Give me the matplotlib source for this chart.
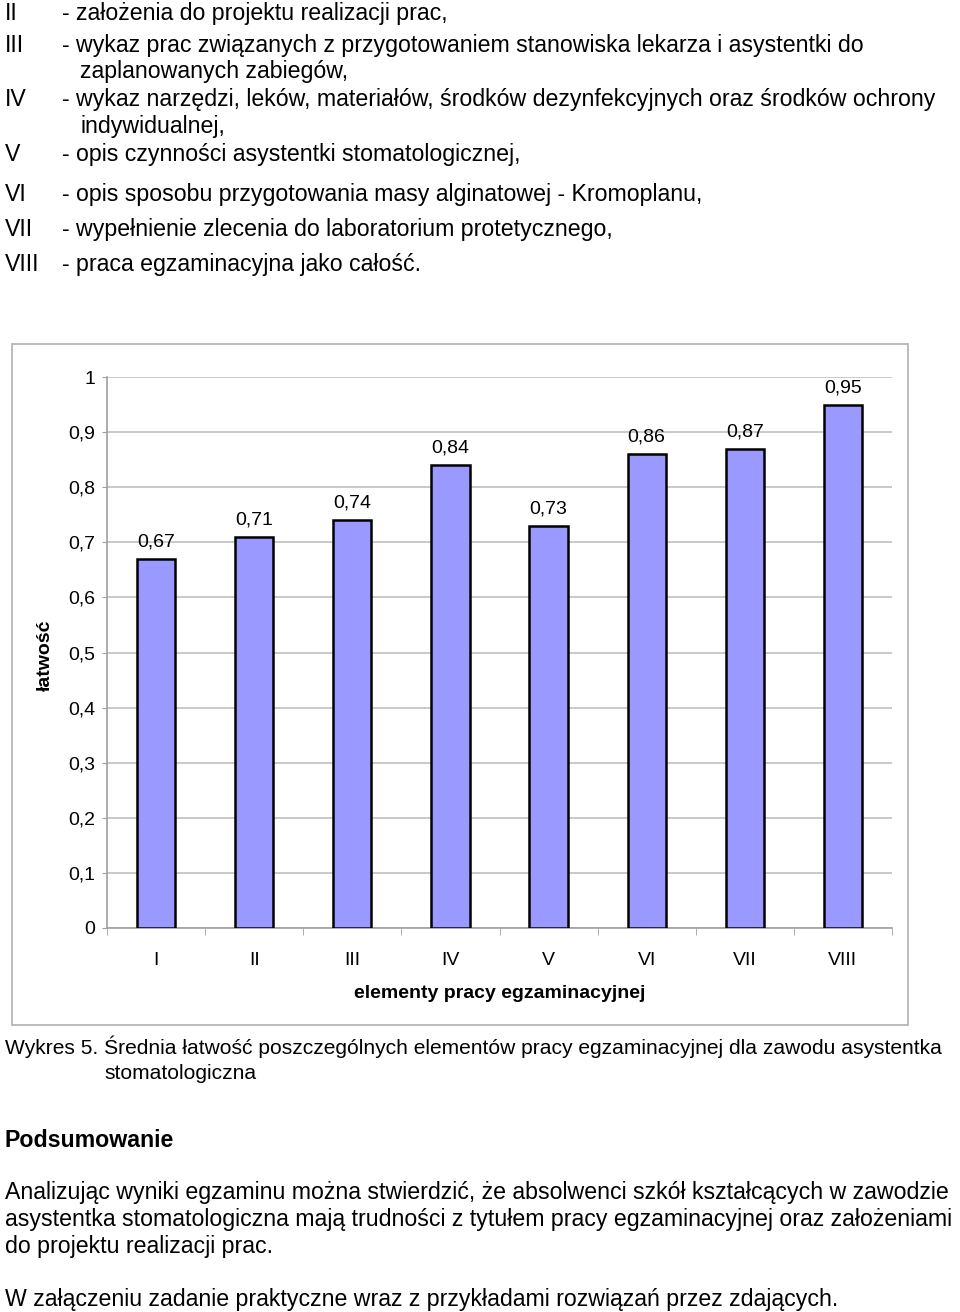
import matplotlib.pyplot as plt
from matplotlib.patches import Rectangle

plt.rcParams['font.family'] = ['Liberation Sans', 'DejaVu Sans']

# chart data
elements = ['I', 'II', 'III', 'IV', 'V', 'VI', 'VII', 'VIII']
ease = [0.67, 0.71, 0.74, 0.84, 0.73, 0.86, 0.87, 0.95]
y_ticks = [0, 0.1, 0.2, 0.3, 0.4, 0.5, 0.6, 0.7, 0.8, 0.9, 1]

# page text
list_numerals = ['II', 'III', '', 'IV', '', 'V', 'VI', 'VII', 'VIII']
list_items = [
    '- założenia do projektu realizacji prac,',
    '- wykaz prac związanych z przygotowaniem stanowiska lekarza i asystentki do',
    'zaplanowanych zabiegów,',
    '- wykaz narzędzi, leków, materiałów, środków dezynfekcyjnych oraz środków ochrony',
    'indywidualnej,',
    '- opis czynności asystentki stomatologicznej,',
    '- opis sposobu przygotowania masy alginatowej - Kromoplanu,',
    '- wypełnienie zlecenia do laboratorium protetycznego,',
    '- praca egzaminacyjna jako całość.',
]
list_rows = [12, 44, 70, 98, 125, 153, 193, 228, 263]

caption = ['Wykres 5. Średnia łatwość poszczególnych elementów pracy egzaminacyjnej dla zawodu asystentka',
           'stomatologiczna']
summary = ['Analizując wyniki egzaminu można stwierdzić, że absolwenci szkół kształcących w zawodzie',
           'asystentka stomatologiczna mają trudności z tytułem pracy egzaminacyjnej oraz założeniami',
           'do projektu realizacji prac.']
closing = 'W załączeniu zadanie praktyczne wraz z przykładami rozwiązań przez zdających.'

W, H = 960, 1312
fig = plt.figure(figsize=(W / 100, H / 100), dpi=100)


def fx(px):
    return px / W


def fy(py):
    return 1 - py / H


FS = 16.7
CS = 14  # chart text size


def line(xp, row, s, size=FS, **kw):
    # row is the middle of the capital letters; text sits on its baseline
    fig.text(fx(xp), fy(row + size * 0.48), s, fontsize=size, va='baseline', **kw)


for num, item, row in zip(list_numerals, list_items, list_rows):
    if num:
        line(5, row, num)
        line(62, row, item)
    else:
        line(80, row, item)

# chart frame
fig.patches.append(Rectangle((fx(12), fy(1025)), fx(908 - 12), (1025 - 344) / H,
                             transform=fig.transFigure, fill=False,
                             edgecolor='#b0b0b0', linewidth=1.2))

ax = fig.add_axes([fx(107), fy(928), fx(892 - 107), (928 - 377) / H])
x = range(len(elements))
ax.bar(x, ease, width=0.39, color='#9999ff', edgecolor='black', linewidth=1.8, zorder=3)
for xi, v in zip(x, ease):
    ax.annotate(f'{v:.2f}'.replace('.', ','), (xi, v), xytext=(0, 6), textcoords='offset points',
                ha='center', va='bottom', fontsize=CS)

ax.set_xlim(-0.5, len(elements) - 0.5)
ax.set_ylim(0, 1)
ax.set_yticks(y_ticks)
ax.set_yticklabels([f'{t:g}'.replace('.', ',') for t in y_ticks])
ax.yaxis.grid(True, color='#c0c0c0', linewidth=1.2, zorder=0)
ax.set_xticks(list(x))
ax.set_xticklabels(elements)
ax.set_xticks([i - 0.5 for i in range(len(elements) + 1)], minor=True)
ax.tick_params(axis='x', which='major', length=0, pad=17, labelsize=CS)
ax.tick_params(axis='x', which='minor', length=5, color='#a0a0a0')
ax.tick_params(axis='y', length=3.5, color='#a0a0a0', pad=5, labelsize=CS)
for s in ['top', 'right']:
    ax.spines[s].set_visible(False)
for s in ['left', 'bottom']:
    ax.spines[s].set_color('#a0a0a0')
    ax.spines[s].set_linewidth(1.2)
ax.set_xlabel('elementy pracy egzaminacyjnej', fontsize=CS, fontweight='bold', labelpad=12)
fig.text(fx(45), fy(655), 'łatwość', rotation=90, fontsize=CS, fontweight='bold',
         ha='center', va='center')

# text below the chart
line(5, 1047, caption[0], size=15.1)
line(104, 1072, caption[1], size=15.1)
line(5, 1139, 'Podsumowanie', fontweight='bold')
for s, row in zip(summary, [1191, 1218, 1245]):
    line(5, row, s)
line(5, 1298, closing)

fig.savefig('out.png', dpi=100)
